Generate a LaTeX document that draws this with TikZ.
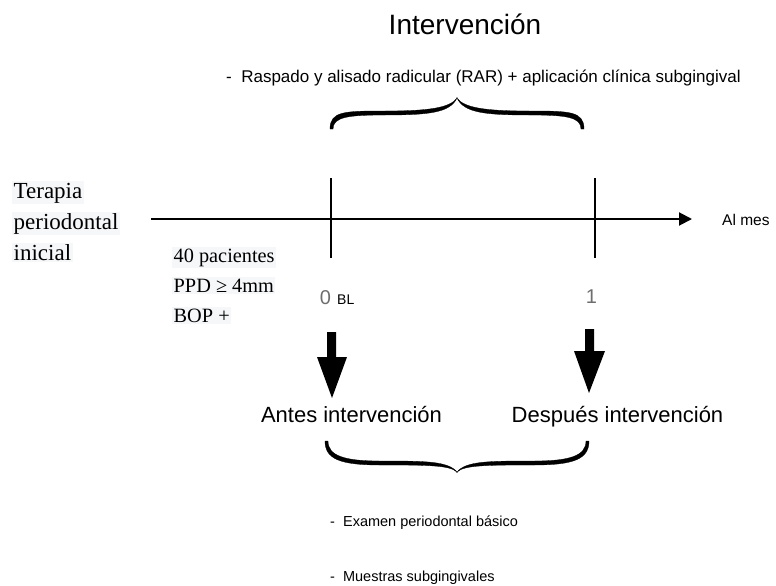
\documentclass[tikz,border=0pt]{standalone}
\usepackage{fontspec}
\setmainfont{Liberation Serif}
\setsansfont{Liberation Sans}
\usetikzlibrary{arrows.meta}
\definecolor{boxbg}{HTML}{F6F7F9}
\definecolor{numgrey}{HTML}{6E6E6E}
\tikzset{
  serifbox/.style={font=\rmfamily\fontsize{23}{25}\selectfont, fill=boxbg, inner sep=1.5pt, anchor=base west},
  smallserif/.style={font=\rmfamily\fontsize{20.3}{22}\selectfont, fill=boxbg, inner sep=1.5pt, anchor=base west},
  tick/.style={line width=1.5pt},
  bracefill/.style={fill=black, draw=black, line width=0.3pt},
  fatarrow/.style={fill=black, draw=none},
  listlabel/.style={font=\sffamily\fontsize{14.5}{16}\selectfont, anchor=base west, inner sep=0pt},
  biglabel/.style={font=\sffamily\fontsize{22}{24}\selectfont, anchor=base, inner sep=0pt},
  numlabel/.style={font=\sffamily\fontsize{20}{22}\selectfont, text=numgrey, anchor=base, inner sep=0pt},
}
\begin{document}
\begin{tikzpicture}[x=1pt,y=-1pt]
\useasboundingbox (0,0) rectangle (776,586);
% title
\node[font=\sffamily\fontsize{28}{30}\selectfont, anchor=base, inner sep=0pt] (title) at (465,35) {Intervención};
\node[font=\sffamily\fontsize{17}{19}\selectfont, anchor=base west, inner sep=0pt] (rar) at (226,82) {-\ \ Raspado y alisado radicular (RAR) + aplicación clínica subgingival};
% top brace (cusp up)
\fill[bracefill] (330,129) .. controls (330,111) and (345,111) .. (385,111) .. controls (428,111) and (450,108) .. (457,98) .. controls (450,113) and (428,115) .. (385,115) .. controls (348,115) and (333,117) .. (333,129) -- cycle;
\fill[bracefill] (584,129) .. controls (584,111) and (569,111) .. (529,111) .. controls (486,111) and (464,108) .. (457,98) .. controls (464,113) and (486,115) .. (529,115) .. controls (566,115) and (581,117) .. (581,129) -- cycle;
% timeline
\coordinate (tl0) at (151,219);
\coordinate (tl1) at (692,219);
\draw[line width=2pt, -{Triangle[length=13pt,width=13pt]}] (tl0) -- (tl1);
\node[font=\sffamily\fontsize{15.5}{17}\selectfont, anchor=base west, inner sep=0pt] (almes) at (722,225) {Al mes};
% ticks
\coordinate (t0a) at (331,178); \coordinate (t0b) at (331,258);
\coordinate (t1a) at (595,178); \coordinate (t1b) at (595,258);
\draw[tick] (t0a) -- (t0b);
\draw[tick] (t1a) -- (t1b);
% left texts
\node[serifbox] (ter1) at (12,198) {Terapia};
\node[serifbox] (ter2) at (12,229) {periodontal};
\node[serifbox] (ter3) at (12,260) {inicial};
\node[smallserif] (p1) at (172,262) {40 pacientes};
\node[smallserif] (p2) at (172,292) {PPD ≥ 4mm};
\node[smallserif] (p3) at (172,322) {BOP +};
% numbers
\node[numlabel] (n0) at (325.5,304) {0};
\node[font=\sffamily\fontsize{14}{16}\selectfont, anchor=base west, inner sep=0pt] (bl) at (337,304) {BL};
\node[numlabel] (n1) at (591.5,303) {1};
% fat arrows
\fill[fatarrow] (327,332) -- (336,332) -- (336,357) -- (347,357) -- (332,398) -- (317,357) -- (327,357) -- cycle;
\fill[fatarrow] (585,329) -- (594,329) -- (594,351) -- (605,351) -- (589,393) -- (574,351) -- (585,351) -- cycle;
% antes / despues
\node[biglabel] (antes) at (351.5,422) {Antes intervención};
\node[biglabel] (desp) at (617.5,422) {Después intervención};
% bottom brace (cusp down)
\fill[bracefill] (325,441) .. controls (325,459) and (340,465) .. (380,465) .. controls (425,465) and (450,465) .. (457,472) .. controls (448,461) and (425,461) .. (380,461) .. controls (345,461) and (328,456) .. (328,441) -- cycle;
\fill[bracefill] (589,441) .. controls (589,459) and (574,465) .. (534,465) .. controls (489,465) and (464,465) .. (457,472) .. controls (466,461) and (489,461) .. (534,461) .. controls (569,461) and (586,456) .. (586,441) -- cycle;
% bottom list
\node[listlabel] (ex) at (330,526) {-\ \ Examen periodontal básico};
\node[listlabel] (mu) at (330,581) {-\ \ Muestras subgingivales};
\end{tikzpicture}
\end{document}
